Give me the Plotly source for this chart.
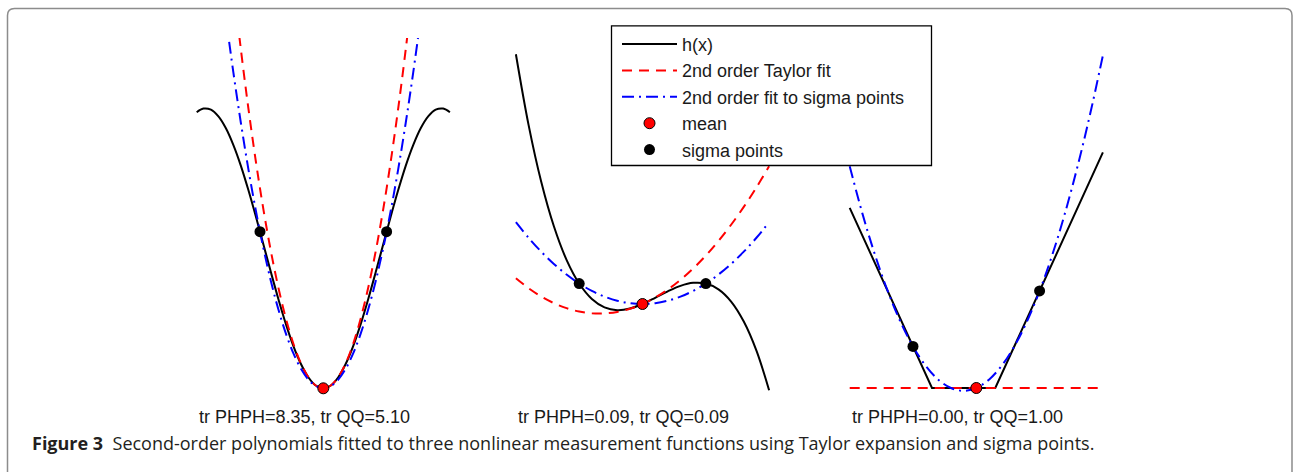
import plotly.graph_objects as go

W, H = 1294, 472

# ---------------- data ----------------
# Panel 1: h(x) with hump at both ends
p1_x = [-3.38, -3.2, -3.0, -2.8, -2.6, -2.4, -2.2, -2.0, -1.8, -1.6, -1.4, -1.2, -1.0, -0.8, -0.6, -0.4, -0.2, 0.0,
        0.2, 0.4, 0.6, 0.8, 1.0, 1.2, 1.4, 1.6, 1.8, 2.0, 2.2, 2.4, 2.6, 2.8, 3.0, 3.2, 3.38]
p1_h = [1.972, 1.998, 1.990, 1.942, 1.857, 1.737, 1.589, 1.416, 1.227, 1.029, 0.830, 0.638, 0.460, 0.303, 0.175, 0.079, 0.020, 0.0,
        0.020, 0.079, 0.175, 0.303, 0.460, 0.638, 0.830, 1.029, 1.227, 1.416, 1.589, 1.737, 1.857, 1.942, 1.990, 1.998, 1.972]
p1_tx = [-2.4, -2.2, -2.0, -1.8, -1.6, -1.4, -1.2, -1.0, -0.8, -0.6, -0.4, -0.2, 0.0, 0.2, 0.4, 0.6, 0.8, 1.0, 1.2, 1.4, 1.6, 1.8, 2.0, 2.2, 2.4]
p1_taylor = [2.88, 2.42, 2.0, 1.62, 1.28, 0.98, 0.72, 0.5, 0.32, 0.18, 0.08, 0.02, 0.0, 0.02, 0.08, 0.18, 0.32, 0.5, 0.72, 0.98, 1.28, 1.62, 2.0, 2.42, 2.88]
p1_sx = [-2.6, -2.4, -2.2, -2.0, -1.8, -1.6, -1.4, -1.2, -1.0, -0.8, -0.6, -0.4, -0.2, 0.0, 0.2, 0.4, 0.6, 0.8, 1.0, 1.2, 1.4, 1.6, 1.8, 2.0, 2.2, 2.4, 2.6]
p1_sfit = [2.647, 2.255, 1.895, 1.566, 1.268, 1.002, 0.767, 0.564, 0.392, 0.251, 0.141, 0.063, 0.016, 0.0,
           0.016, 0.063, 0.141, 0.251, 0.392, 0.564, 0.767, 1.002, 1.268, 1.566, 1.895, 2.255, 2.647]
p1_mean = (0.0, 0.0)
p1_sig_x = [-1.69, 1.69]
p1_sig_y = [1.119, 1.119]

# Panel 2: cubic-like h(x)
p2_x = [-2.0, -1.8, -1.6, -1.4, -1.2, -1.0, -0.8, -0.6, -0.4, -0.2, 0.0, 0.2, 0.4, 0.6, 0.8, 1.0, 1.2, 1.4, 1.6, 1.8, 2.0]
p2_h = [8.92, 6.397, 4.365, 2.775, 1.579, 0.73, 0.179, -0.121, -0.219, -0.163, 0.0, 0.221, 0.453, 0.647, 0.755, 0.73, 0.523, 0.087, -0.627, -1.667, -3.08]
p2_taylor = [0.92, 0.565, 0.269, 0.031, -0.149, -0.27, -0.333, -0.337, -0.283, -0.171, 0.0, 0.229, 0.517, 0.863, 1.267, 1.73, 2.251, 2.831, 3.469, 4.165, 4.92]
p2_sfit = [2.92, 2.365, 1.869, 1.431, 1.051, 0.73, 0.467, 0.263, 0.117, 0.029, 0.0, 0.029, 0.117, 0.263, 0.467, 0.73, 1.051, 1.431, 1.869, 2.365, 2.92]
p2_mean = (0.0, 0.0)
p2_sig_x = [-1.0, 1.0]
p2_sig_y = [0.73, 0.73]

# Panel 3: dead-zone h(x)
p3_hx = [-2.0, -0.70, 0.30, 2.0]
p3_h = [2.86, 0.0, 0.0, 3.74]
p3_tx = [-2.0, 2.0]
p3_taylor = [0.0, 0.0]
p3_x = [-2.0, -1.8, -1.6, -1.4, -1.2, -1.0, -0.8, -0.6, -0.4, -0.2, 0.0, 0.2, 0.4, 0.6, 0.8, 1.0, 1.2, 1.4, 1.6, 1.8, 2.0]
p3_sfit = [3.52, 2.772, 2.112, 1.54, 1.056, 0.66, 0.352, 0.132, 0.0, -0.044, 0.0, 0.132, 0.352, 0.66, 1.056, 1.54, 2.112, 2.772, 3.52, 4.356, 5.28]
p3_mean = (0.0, 0.0)
p3_sig_x = [-1.0, 1.0]
p3_sig_y = [0.66, 1.54]

captions = ["tr PHPH=8.35, tr QQ=5.10", "tr PHPH=0.09, tr QQ=0.09", "tr PHPH=0.00, tr QQ=1.00"]
legend_names = ["h(x)", "2nd order Taylor fit", "2nd order fit to sigma points", "mean", "sigma points"]
fig_caption_bold = "Figure 3"
fig_caption = "Second-order polynomials fitted to three nonlinear measurement functions using Taylor expansion and sigma points."

# ---------------- styling / layout ----------------
RED = "#ff0000"
BLUE = "#0000ff"
BLACK = "#000000"
DASH = "10px,7px"
DASHDOT = "12px,5px,2px,5px"
LW = 2
MS = 11

# pixel mapping for each panel: mean x px, px per x unit, px of y=0, px per y unit, domain left/right px
panels = [
    dict(mx=323.3, sx=37.46, my=388.3, sy=140.0, L=188, R=459),
    dict(mx=642.5, sx=63.3, my=304.0, sy=28.0, L=506, R=779),
    dict(mx=976.3, sx=63.3, my=388.0, sy=63.0, L=840, R=1113),
]
TOP, BOT = 38, 405

data_sets = [
    (p1_x, p1_h, p1_tx, p1_taylor, p1_sx, p1_sfit, p1_mean, p1_sig_x, p1_sig_y),
    (p2_x, p2_h, p2_x, p2_taylor, p2_x, p2_sfit, p2_mean, p2_sig_x, p2_sig_y),
    (p3_hx, p3_h, p3_tx, p3_taylor, p3_x, p3_sfit, p3_mean, p3_sig_x, p3_sig_y),
]

fig = go.Figure()
for i, (hx, hy, tx, ty, sx_, sy_, mean, sgx, sgy) in enumerate(data_sets):
    ax = "x" if i == 0 else f"x{i+1}"
    ay = "y" if i == 0 else f"y{i+1}"
    show = (i == 0)
    shape = "spline" if i < 2 else "linear"
    fig.add_trace(go.Scatter(x=hx, y=hy, mode="lines", name=legend_names[0], showlegend=show,
                             line=dict(color=BLACK, width=LW, shape=shape), xaxis=ax, yaxis=ay))
    fig.add_trace(go.Scatter(x=tx, y=ty, mode="lines", name=legend_names[1], showlegend=show,
                             line=dict(color=RED, width=LW, dash=DASH, shape="spline"), xaxis=ax, yaxis=ay))
    fig.add_trace(go.Scatter(x=sx_, y=sy_, mode="lines", name=legend_names[2], showlegend=show,
                             line=dict(color=BLUE, width=LW, dash=DASHDOT, shape="spline"), xaxis=ax, yaxis=ay))
    fig.add_trace(go.Scatter(x=[mean[0]], y=[mean[1]], mode="markers", name=legend_names[3], showlegend=show,
                             marker=dict(color=RED, size=MS, line=dict(color=BLACK, width=1)),
                             cliponaxis=False, xaxis=ax, yaxis=ay))
    fig.add_trace(go.Scatter(x=sgx, y=sgy, mode="markers", name=legend_names[4], showlegend=show,
                             marker=dict(color=BLACK, size=MS, line=dict(color=BLACK, width=0)),
                             cliponaxis=False, xaxis=ax, yaxis=ay))

layout = dict(width=W, height=H, margin=dict(l=0, r=0, t=0, b=0),
              paper_bgcolor="white", plot_bgcolor="white", showlegend=True)
for i, p in enumerate(panels):
    xr = [(p["L"] - p["mx"]) / p["sx"], (p["R"] - p["mx"]) / p["sx"]]
    yr = [(p["my"] - BOT) / p["sy"], (p["my"] - TOP) / p["sy"]]
    kx = "xaxis" if i == 0 else f"xaxis{i+1}"
    ky = "yaxis" if i == 0 else f"yaxis{i+1}"
    layout[kx] = dict(domain=[p["L"] / W, p["R"] / W], range=xr, visible=False, fixedrange=True,
                      anchor="y" if i == 0 else f"y{i+1}")
    layout[ky] = dict(domain=[1 - BOT / H, 1 - TOP / H], range=yr, visible=False, fixedrange=True,
                      anchor="x" if i == 0 else f"x{i+1}")

fig.update_layout(**layout)

fig.update_layout(legend=dict(x=617 / W, y=1 - 25.8 / H, xanchor="left", yanchor="top",
                              bgcolor="rgba(0,0,0,0)", borderwidth=0, itemwidth=55,
                              font=dict(family="Liberation Sans, Arial, sans-serif", size=18, color="#1a1a1a"),
                              traceorder="normal"))

def px(x):
    return x / W

def py(y):
    return 1 - y / H

# legend box (white, covers curves)
fig.add_shape(type="rect", xref="paper", yref="paper", x0=px(611.5), x1=px(931.5), y0=py(165.5), y1=py(25.8),
              fillcolor="white", line=dict(color=BLACK, width=1.3), layer="above")

# outer rounded frame
fl, ft, fr, fb, r = 7.5, 8.5, 1292.0, 490.0, 7.0
path = (f"M {px(fl)},{py(fb)} L {px(fl)},{py(ft + r)} Q {px(fl)},{py(ft)} {px(fl + r)},{py(ft)} "
        f"L {px(fr - r)},{py(ft)} Q {px(fr)},{py(ft)} {px(fr)},{py(ft + r)} L {px(fr)},{py(fb)}")
fig.add_shape(type="path", xref="paper", yref="paper", path=path,
              line=dict(color="#8c8c8c", width=1.5), layer="above")

cap_left = [196.7, 515.7, 849.7]
for cx, txt in zip(cap_left, captions):
    fig.add_annotation(x=px(cx), y=py(416.5), xref="paper", yref="paper", text=txt, showarrow=False,
                       xanchor="left", yanchor="middle",
                       font=dict(family="Liberation Sans, Arial, sans-serif", size=18, color="#1a1a1a"))

fig.add_annotation(x=px(30), y=py(443), xref="paper", yref="paper",
                   text=f"<b>{fig_caption_bold}</b>\u00a0\u00a0{fig_caption}", showarrow=False,
                   xanchor="left", yanchor="middle",
                   font=dict(family="Open Sans, Noto Sans, sans-serif", size=18, color="#231f20"))

fig.write_html("out.html", config={"displayModeBar": False},
               post_script="document.body.style.margin='0';document.body.style.padding='0';")
